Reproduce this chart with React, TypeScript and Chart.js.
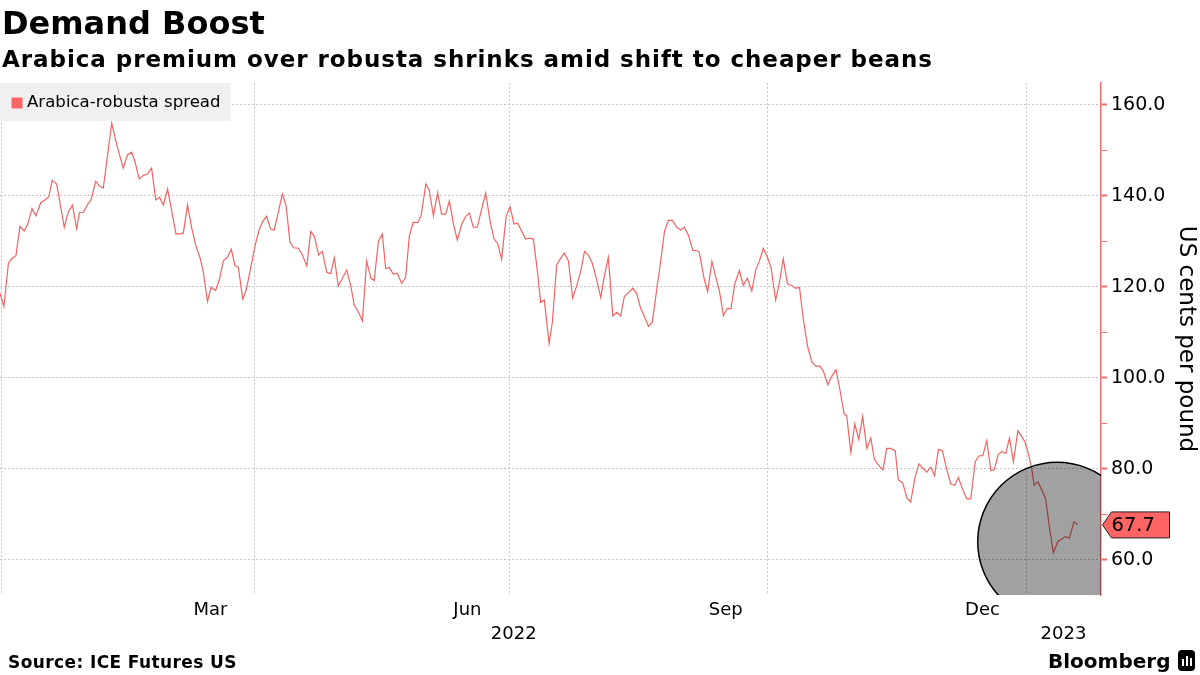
import React, { useEffect, useRef } from 'react';
import { Chart, registerables } from 'chart.js';

Chart.register(...registerables);

const TITLE = 'Demand Boost';
const SUBTITLE = 'Arabica premium over robusta shrinks amid shift to cheaper beans';
const SOURCE = 'Source: ICE Futures US';
const SERIES_LABEL = 'Arabica-robusta spread';
const Y_TITLE = 'US cents per pound';

// Days since 2022-01-01 (trading days, estimated from the chart)
const days = [-0.5, 0.9, 2.5, 3.7, 5.2, 6.6, 8.1, 9.4, 10.9, 12.3, 14.0, 15.5, 16.9, 18.1, 19.7, 22.4, 23.8, 25.3, 26.8, 27.8, 29.2, 30.6, 31.9, 33.6, 34.9, 36.3, 39.3, 41.1, 43.4, 44.9, 46.4, 47.6, 49.1, 50.6, 52.0, 53.5, 55.0, 56.3, 57.7, 59.2, 62.2, 64.8, 66.3, 67.8, 69.3, 70.8, 71.9, 73.4, 74.7, 76.3, 77.6, 79.1, 80.5, 81.9, 83.2, 84.4, 86.0, 87.2, 88.8, 90.3, 91.8, 93.1, 94.5, 95.9, 97.2, 98.6, 100.1, 101.4, 102.8, 104.2, 105.8, 107.2, 108.8, 110.2, 111.5, 113.0, 114.3, 115.9, 117.3, 118.6, 120.0, 123.0, 124.4, 125.7, 127.1, 128.6, 130.1, 131.6, 132.8, 134.3, 135.7, 136.9, 138.1, 139.6, 141.0, 142.6, 144.0, 145.3, 146.7, 148.3, 149.5, 151.2, 152.4, 153.9, 155.4, 156.8, 158.3, 159.6, 161.0, 162.4, 164.0, 165.4, 166.7, 168.1, 169.5, 172.5, 174.1, 175.5, 176.8, 178.2, 179.8, 181.2, 182.6, 183.9, 185.4, 186.8, 188.1, 189.5, 190.9, 192.1, 193.4, 195.1, 196.3, 197.8, 198.8, 200.5, 202.0, 203.5, 205.0, 206.4, 207.7, 209.1, 210.5, 212.1, 213.5, 214.8, 216.2, 217.8, 219.2, 220.6, 221.9, 223.3, 224.9, 226.3, 227.7, 229.0, 230.5, 231.9, 233.5, 235.0, 236.2, 237.6, 239.0, 240.6, 242.0, 243.3, 244.7, 246.3, 247.7, 248.6, 250.3, 251.6, 253.1, 254.5, 255.8, 257.2, 258.6, 259.9, 261.3, 262.9, 264.3, 265.7, 267.3, 268.7, 270.0, 271.4, 273.0, 274.2, 275.8, 277.1, 278.5, 280.0, 281.5, 283.0, 284.3, 285.7, 287.2, 288.7, 290.1, 291.6, 292.8, 294.4, 295.8, 297.3, 298.7, 300.2, 301.1, 302.6, 304.0, 305.4, 306.8, 308.3, 309.7, 311.0, 312.4, 314.0, 315.4, 316.8, 318.4, 319.5, 321.1, 322.5, 323.9, 325.5, 326.9, 328.2, 329.6, 331.1, 332.4, 333.8, 335.2, 336.8, 338.2, 339.6, 340.9, 342.5, 343.9, 345.3, 346.9, 348.3, 349.6, 351.0, 352.5, 353.7, 355.1, 356.4, 357.8, 359.1, 360.5, 362.1, 363.5, 364.7, 365.8, 367.0, 367.9, 369.2, 370.6, 372.0, 373.3, 374.7, 376.3, 377.7, 379.1, 380.4, 382.1, 383.4];

// Arabica-robusta spread, US cents per pound
const spread = [118.6, 115.7, 125.2, 126.2, 126.9, 133.3, 132.3, 133.8, 137.2, 135.6, 138.5, 139.1, 139.8, 143.4, 142.6, 133.1, 136.4, 138.0, 132.8, 136.3, 136.4, 138.0, 139.1, 143.2, 142.2, 141.7, 156.0, 151.2, 146.1, 149.0, 149.6, 147.5, 143.7, 144.5, 144.8, 146.1, 139.1, 139.7, 138.0, 141.5, 131.6, 131.8, 138.0, 132.9, 129.0, 126.3, 123.4, 116.8, 119.9, 119.2, 121.5, 125.8, 126.5, 128.3, 124.7, 124.3, 117.3, 119.3, 124.1, 128.9, 132.5, 134.4, 135.5, 132.7, 132.5, 136.3, 140.4, 137.9, 129.8, 128.6, 128.5, 127.0, 124.6, 132.2, 131.1, 127.0, 127.8, 123.2, 122.9, 126.4, 120.2, 123.7, 120.4, 116.0, 114.6, 112.5, 125.7, 122.0, 121.4, 130.0, 131.6, 124.0, 124.3, 122.8, 123.0, 120.8, 122.1, 131.1, 134.2, 134.1, 135.6, 142.6, 141.3, 135.6, 140.7, 136.0, 136.0, 138.9, 133.9, 130.3, 133.8, 135.5, 136.2, 133.1, 133.1, 140.6, 134.4, 130.5, 129.5, 126.1, 135.5, 137.6, 133.8, 134.0, 132.2, 130.5, 130.7, 130.5, 123.7, 116.6, 117.1, 107.6, 112.4, 124.8, 125.9, 127.4, 125.7, 117.5, 120.4, 123.5, 127.8, 127.0, 125.2, 121.5, 117.7, 122.4, 126.5, 113.6, 114.4, 113.6, 117.9, 118.7, 119.7, 118.6, 115.3, 113.6, 111.3, 112.3, 119.7, 126.3, 132.2, 134.6, 134.6, 133.1, 132.5, 133.1, 131.4, 128.0, 128.0, 127.6, 121.9, 119.0, 125.6, 122.1, 119.0, 113.7, 115.3, 115.2, 120.8, 123.6, 120.3, 121.9, 119.1, 123.7, 125.6, 128.5, 126.3, 124.1, 117.1, 120.8, 126.2, 120.7, 120.3, 119.7, 119.9, 112.7, 106.9, 103.5, 102.6, 102.6, 101.5, 98.5, 100.4, 101.8, 97.4, 92.1, 91.7, 83.6, 89.9, 86.5, 91.5, 84.5, 86.8, 82.0, 80.9, 79.8, 84.5, 84.5, 84.0, 77.6, 76.9, 73.7, 72.7, 78.3, 81.1, 80.2, 79.3, 80.4, 78.5, 84.3, 84.0, 79.8, 76.7, 76.4, 78.1, 75.4, 73.4, 73.4, 81.6, 82.9, 82.9, 86.2, 79.6, 79.8, 83.2, 83.8, 83.4, 86.8, 81.6, 88.4, 87.1, 85.8, 83.4, 80.1, 76.4, 77.2, 75.4, 73.4, 67.3, 61.6, 64.0, 64.6, 65.1, 64.8, 68.4, 67.7];

// Axis labels
const monthTickLabels = ['Mar', 'Jun', 'Sep', 'Dec'];
const monthTickMonths = [[2022, 3], [2022, 6], [2022, 9], [2022, 12]];
const quarterStarts = [[2022, 1, 1], [2022, 4, 1], [2022, 7, 1], [2022, 10, 1], [2023, 1, 1]];
const yearTickLabels = ['2022', '2023'];
const yTickValues = [60, 70, 80, 90, 100, 110, 120, 130, 140, 150, 160];

// Axis range (days since 2022-01-01, cents)
const X_MIN = -0.5;
const X_MAX = 391.7;
const Y_MIN = 52.3;
const Y_MAX = 164.8;

// Highlight circle around recent slump (centre in data units)
const highlightDay = 376.1;
const highlightValue = 64.0;

const FONT = "'DejaVu Sans', sans-serif";
const LINE_COLOR = '#ef6464';
const AXIS_COLOR = '#f07070';
const GRID_COLOR = '#c4c4c4';

const dayOf = (y: number, m: number, d: number) =>
  (Date.UTC(y, m - 1, d) - Date.UTC(2022, 0, 1)) / 86400000;

const quarterStartDays = quarterStarts.map(([y, m, d]) => dayOf(y, m, d));
const monthMidDays = monthTickMonths.map(([y, m]) => {
  const start = dayOf(y, m, 1);
  const end = m === 12 ? dayOf(y + 1, 1, 1) : dayOf(y, m + 1, 1);
  return (start + end) / 2;
});
const yearMidDays = yearTickLabels.map((yl) => {
  const y = Number(yl);
  const s = Math.max(dayOf(y, 1, 1), X_MIN);
  const e = Math.min(dayOf(y + 1, 1, 1), X_MAX);
  return (s + e) / 2;
});

const overlayPlugin = {
  id: 'overlayPlugin',
  afterDatasetsDraw(chart: any) {
    const { ctx, chartArea, scales } = chart;
    // highlight circle
    ctx.save();
    ctx.beginPath();
    ctx.rect(chartArea.left, chartArea.top, chartArea.right - chartArea.left, chartArea.bottom - chartArea.top);
    ctx.clip();
    const cx = scales.x.getPixelForValue(highlightDay);
    const cy = scales.y.getPixelForValue(highlightValue);
    ctx.beginPath();
    ctx.arc(cx, cy, 79.5, 0, Math.PI * 2);
    ctx.fillStyle = 'rgba(0,0,0,0.37)';
    ctx.fill();
    ctx.lineWidth = 1.5;
    ctx.strokeStyle = '#000';
    ctx.stroke();
    ctx.restore();

    // legend
    ctx.save();
    ctx.font = `16.6px ${FONT}`;
    const label = chart.data.datasets[0].label;
    const tw = ctx.measureText(label).width;
    const lx = chartArea.left;
    const ly = chartArea.top;
    ctx.fillStyle = '#f0f0f0';
    ctx.fillRect(lx, ly, 27 + tw + 10, 38);
    ctx.fillStyle = '#ff6464';
    ctx.fillRect(lx + 11.5, ly + 14.5, 11, 11);
    ctx.fillStyle = '#000';
    ctx.textBaseline = 'middle';
    ctx.textAlign = 'left';
    ctx.fillText(label, lx + 27, ly + 20);
    ctx.restore();
  },
  afterDraw(chart: any) {
    const { ctx, chartArea, scales } = chart;
    const data = chart.data.datasets[0].data;
    const last = data[data.length - 1].y;
    const y = scales.y.getPixelForValue(last);
    const x0 = chartArea.right + 1.5;
    ctx.save();
    ctx.beginPath();
    ctx.moveTo(x0, y);
    ctx.lineTo(x0 + 9, y - 13);
    ctx.lineTo(x0 + 67, y - 13);
    ctx.lineTo(x0 + 67, y + 13);
    ctx.lineTo(x0 + 9, y + 13);
    ctx.closePath();
    ctx.fillStyle = '#ff6464';
    ctx.fill();
    ctx.lineWidth = 1;
    ctx.strokeStyle = '#222';
    ctx.stroke();
    ctx.fillStyle = '#000';
    ctx.font = `19.5px ${FONT}`;
    ctx.textBaseline = 'middle';
    ctx.textAlign = 'left';
    ctx.fillText(last.toFixed(1), x0 + 9, y + 1);
    ctx.restore();
  },
};

function ChartView() {
  const ref = useRef<HTMLCanvasElement | null>(null);
  useEffect(() => {
    if (!ref.current) return;
    const n = Math.min(days.length, spread.length);
    const points = [] as { x: number; y: number }[];
    for (let i = 0; i < n; i++) points.push({ x: days[i], y: spread[i] });

    const chart = new Chart(ref.current, {
      type: 'line',
      data: {
        datasets: [
          {
            label: SERIES_LABEL,
            data: points,
            borderColor: LINE_COLOR,
            borderWidth: 1.2,
            pointRadius: 0,
            tension: 0,
            fill: false,
          },
        ],
      },
      options: {
        animation: false,
        responsive: false,
        events: [],
        layout: { padding: { top: 83, left: 0, right: 0, bottom: 32 } },
        plugins: { legend: { display: false }, tooltip: { enabled: false } },
        scales: {
          x: {
            type: 'linear',
            axis: 'x',
            position: 'bottom',
            weight: 0,
            min: X_MIN,
            max: X_MAX,
            afterBuildTicks: (s: any) => {
              s.ticks = quarterStartDays.map((v) => ({ value: v }));
            },
            afterFit: (s: any) => {
              s.height = 0;
            },
            grid: { color: GRID_COLOR, lineWidth: 1, drawTicks: false },
            border: { display: false, dash: [2, 2] },
            ticks: { display: false },
          },
          xMonths: {
            type: 'linear',
            axis: 'x',
            position: 'bottom',
            weight: 1,
            min: X_MIN,
            max: X_MAX,
            afterBuildTicks: (s: any) => {
              s.ticks = monthMidDays.map((v) => ({ value: v }));
            },
            afterFit: (s: any) => {
              s.height = 24;
            },
            grid: { display: false, drawTicks: false },
            border: { display: false },
            ticks: {
              autoSkip: false,
              maxRotation: 0,
              padding: 5,
              color: '#000',
              font: { family: FONT, size: 18 },
              callback: (_v: any, i: number) => monthTickLabels[i],
            },
          },
          xYears: {
            type: 'linear',
            axis: 'x',
            position: 'bottom',
            weight: 2,
            min: X_MIN,
            max: X_MAX,
            afterBuildTicks: (s: any) => {
              s.ticks = yearMidDays.map((v) => ({ value: v }));
            },
            afterFit: (s: any) => {
              s.height = 24;
            },
            grid: { display: false, drawTicks: false },
            border: { display: false },
            ticks: {
              autoSkip: false,
              maxRotation: 0,
              padding: 5,
              color: '#000',
              font: { family: FONT, size: 18 },
              callback: (_v: any, i: number) => yearTickLabels[i],
            },
          },
          y: {
            type: 'linear',
            position: 'right',
            min: Y_MIN,
            max: Y_MAX,
            afterBuildTicks: (s: any) => {
              s.ticks = yTickValues.map((v) => ({ value: v }));
            },
            afterFit: (s: any) => {
              s.width = 99;
            },
            grid: {
              color: (c: any) => (c.tick && c.tick.value % 20 === 0 ? GRID_COLOR : 'rgba(0,0,0,0)'),
              lineWidth: 1,
              drawTicks: true,
              tickLength: 6,
              tickColor: AXIS_COLOR,
              tickWidth: (c: any) => (c.tick && c.tick.value % 20 === 0 ? 2 : 1),
            },
            border: { display: true, color: AXIS_COLOR, width: 1.5, dash: [2, 2] },
            ticks: {
              color: '#000',
              padding: 4,
              font: { family: FONT, size: 19 },
              callback: (v: any) => (Number(v) % 20 === 0 ? Number(v).toFixed(1) : ''),
            },
            title: {
              display: true,
              text: Y_TITLE,
              color: '#000',
              font: { family: FONT, size: 23 },
              padding: 0,
            },
          },
        },
      },
      plugins: [overlayPlugin],
    } as any);
    return () => chart.destroy();
  }, []);
  return <canvas ref={ref} width={1200} height={675} style={{ position: 'absolute', left: 0, top: 0, width: 1200, height: 675 }} />;
}

export default function App() {
  return (
    <div style={{ position: 'fixed', left: 0, top: 0, width: 1200, height: 675, background: '#fff', overflow: 'hidden', fontFamily: FONT }}>
      <ChartView />
      <div style={{ position: 'absolute', left: 2, top: 4, fontSize: 32, fontWeight: 'bold', lineHeight: '38px', color: '#000', whiteSpace: 'nowrap' }}>{TITLE}</div>
      <div style={{ position: 'absolute', left: 2, top: 45, fontSize: 23, fontWeight: 'bold', lineHeight: '28px', letterSpacing: '0.95px', color: '#000', whiteSpace: 'nowrap' }}>{SUBTITLE}</div>
      <div style={{ position: 'absolute', left: 8, top: 651, fontSize: 17, fontWeight: 'bold', lineHeight: '22px', letterSpacing: '0.4px', color: '#000', whiteSpace: 'nowrap' }}>{SOURCE}</div>
      <div style={{ position: 'absolute', left: 1048, top: 647, fontSize: 20, fontWeight: 'bold', lineHeight: '28px', color: '#000', whiteSpace: 'nowrap' }}>Bloomberg</div>
      <div style={{ position: 'absolute', left: 1178, top: 650, width: 17, height: 21, background: '#000', borderRadius: 4 }}>
        <div style={{ position: 'absolute', left: 4, top: 9, width: 2, height: 7, background: '#fff' }} />
        <div style={{ position: 'absolute', left: 8, top: 6, width: 2, height: 10, background: '#fff' }} />
        <div style={{ position: 'absolute', left: 12, top: 8, width: 2, height: 8, background: '#fff' }} />
      </div>
    </div>
  );
}
